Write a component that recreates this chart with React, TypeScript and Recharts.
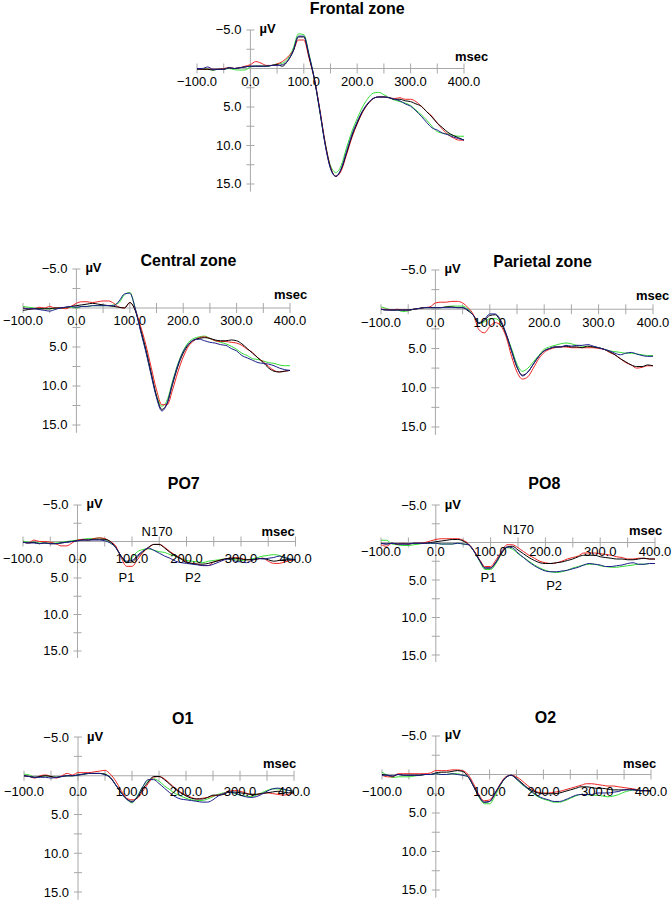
import React from 'react';
import { LineChart, Line, XAxis, YAxis, ReferenceLine, ReferenceDot } from 'recharts';

// time (ms)
const TIME = [-100, -90, -80, -70, -60, -50, -40, -30, -20, -10, 0, 10, 20, 30, 40, 50, 60, 70, 80, 90, 100, 110, 120, 130, 140, 150, 160, 170, 180, 190, 200, 210, 220, 230, 240, 250, 260, 270, 280, 290, 300, 310, 320, 330, 340, 350, 360, 370, 380, 390, 400];

// Frontal zone
const FRONTAL_BLACK = [0.1, 0.1, 0.1, 0.2, 0.1, 0.1, -0.1, 0.0, -0.1, -0.2, -0.3, -0.3, -0.3, -0.3, -0.4, -0.5, -0.3, -1.0, -2.2, -4.1, -4.1, -1.5, 1.5, 5.5, 9.8, 12.9, 14.0, 13.1, 11.0, 8.8, 7.1, 5.6, 4.6, 3.9, 3.7, 3.7, 3.8, 4.0, 4.0, 4.2, 4.3, 4.6, 4.9, 5.6, 6.3, 7.1, 7.7, 8.3, 8.7, 9.0, 9.3];
const FRONTAL_RED = [0.0, 0.1, 0.1, 0.1, 0.1, 0.0, -0.1, 0.0, -0.1, -0.3, -0.5, -0.9, -0.7, -0.4, -0.4, -0.6, -0.9, -1.5, -2.3, -3.7, -3.7, -1.3, 1.4, 5.3, 9.6, 12.8, 14.0, 13.3, 11.2, 9.0, 7.2, 5.7, 4.6, 3.9, 3.7, 3.7, 3.8, 3.9, 3.8, 4.0, 4.0, 4.3, 4.9, 5.6, 6.2, 7.1, 7.9, 8.6, 9.0, 9.3, 9.3];
const FRONTAL_GREEN = [0.0, 0.0, 0.1, 0.2, 0.1, 0.1, 0.0, 0.15, 0.2, 0.2, -0.2, -0.3, -0.3, -0.3, -0.4, -0.6, -0.7, -1.3, -2.6, -4.5, -4.4, -1.8, 1.4, 5.6, 9.7, 12.6, 13.5, 12.6, 10.3, 8.2, 6.5, 5.0, 3.9, 3.2, 3.1, 3.4, 3.8, 4.1, 4.3, 4.5, 4.8, 5.4, 6.0, 6.7, 7.5, 8.2, 8.4, 8.5, 8.7, 8.8, 8.8];
const FRONTAL_BLUE = [0.0, 0.0, -0.2, 0.1, 0.1, 0.1, -0.1, 0.0, -0.1, -0.2, -0.3, -0.3, -0.3, -0.3, -0.4, -0.4, -0.5, -1.0, -2.3, -4.2, -4.2, -1.7, 1.4, 5.5, 9.9, 13.0, 14.0, 13.0, 10.8, 8.6, 6.9, 5.5, 4.5, 3.9, 3.7, 3.7, 3.8, 4.0, 4.2, 4.6, 4.9, 5.5, 6.2, 7.0, 7.7, 8.0, 8.4, 8.6, 8.9, 9.1, 9.3];

// Central zone
const CENTRAL_BLACK = [0.3, 0.2, 0.1, 0.1, 0.1, 0.1, 0.0, 0.0, -0.1, -0.2, -0.3, -0.4, -0.5, -0.6, -0.5, -0.4, -0.3, -0.2, -0.1, 0.0, -0.7, 0.3, 2.7, 5.3, 8.3, 11.3, 13.0, 12.2, 9.8, 7.5, 5.8, 4.7, 4.1, 3.9, 3.8, 3.9, 4.1, 4.2, 4.2, 4.1, 4.2, 4.6, 5.2, 5.8, 6.4, 7.0, 7.7, 8.1, 8.2, 8.1, 8.0];
const CENTRAL_RED = [0.0, 0.1, 0.1, -0.1, 0.0, -0.2, 0.0, 0.0, 0.1, -0.2, -0.6, -0.8, -0.8, -0.7, -0.8, -0.9, -0.9, -0.6, -0.1, 0.0, -0.7, 0.2, 2.3, 4.7, 7.6, 10.5, 12.4, 12.4, 10.5, 8.2, 6.3, 4.9, 4.2, 3.8, 3.7, 3.9, 4.2, 4.3, 4.3, 4.4, 4.5, 4.8, 5.3, 5.7, 6.4, 6.9, 7.5, 8.0, 8.2, 8.1, 8.0];
const CENTRAL_GREEN = [-0.2, -0.1, 0.0, 0.1, 0.1, 0.1, 0.1, 0.0, 0.0, -0.1, 0.0, -0.2, -0.2, -0.3, -0.3, -0.3, -0.3, -0.4, -0.7, -1.7, -2.0, 0.0, 2.8, 5.5, 8.5, 11.2, 12.6, 11.8, 9.4, 7.2, 5.5, 4.4, 3.9, 3.7, 3.6, 3.9, 4.2, 4.4, 4.6, 4.9, 5.3, 5.8, 6.1, 6.5, 6.6, 6.8, 7.0, 7.1, 7.3, 7.4, 7.4];
const CENTRAL_BLUE = [0.0, 0.1, 0.1, 0.2, 0.3, 0.4, 0.2, 0.0, -0.1, -0.2, -0.1, -0.2, -0.2, -0.3, -0.3, -0.3, -0.3, -0.3, -0.9, -1.8, -1.9, 0.0, 2.9, 5.6, 8.6, 11.5, 13.2, 12.2, 9.6, 7.3, 5.6, 4.6, 4.1, 4.0, 4.2, 4.4, 4.5, 4.7, 4.8, 5.2, 5.5, 6.1, 6.4, 6.7, 7.0, 7.1, 7.2, 7.4, 7.7, 7.9, 8.0];

// Parietal zone
const PARIETAL_BLACK = [0.0, 0.1, 0.1, 0.1, 0.1, 0.1, 0.0, -0.1, -0.2, -0.2, -0.2, -0.2, -0.3, -0.3, -0.2, -0.2, 0.2, 0.8, 1.8, 1.4, 0.8, 0.7, 1.6, 3.2, 5.3, 7.4, 8.4, 8.0, 7.0, 6.0, 5.3, 5.0, 4.8, 4.8, 4.7, 4.8, 4.8, 4.9, 4.7, 4.8, 4.9, 5.1, 5.4, 5.8, 6.3, 6.7, 7.1, 7.3, 7.3, 7.1, 7.2];
const PARIETAL_RED = [0.0, 0.0, 0.1, 0.0, 0.1, 0.1, 0.0, -0.1, -0.2, -0.3, -0.8, -0.9, -0.9, -1.0, -1.0, -0.8, -0.2, 0.7, 2.6, 3.0, 2.2, 1.7, 2.1, 3.5, 6.0, 8.0, 8.9, 8.6, 7.5, 6.3, 5.5, 5.1, 4.9, 4.8, 4.8, 4.9, 4.9, 4.9, 4.9, 4.9, 5.0, 5.1, 5.5, 5.8, 6.3, 6.8, 7.1, 7.5, 7.4, 7.2, 7.2];
const PARIETAL_GREEN = [-0.3, -0.1, 0.1, 0.1, 0.3, 0.2, 0.0, -0.1, -0.2, -0.2, -0.2, -0.2, -0.3, -0.4, -0.4, -0.4, 0.0, 0.8, 1.8, 1.6, 1.2, 1.2, 1.7, 3.2, 5.0, 7.0, 7.9, 7.5, 6.7, 5.9, 5.1, 4.8, 4.6, 4.4, 4.3, 4.4, 4.6, 4.7, 4.8, 4.8, 4.9, 5.1, 5.3, 5.4, 5.5, 5.6, 5.6, 5.7, 5.8, 5.9, 5.9];
const PARIETAL_BLUE = [0.0, 0.1, 0.1, 0.1, 0.1, 0.1, 0.0, -0.1, -0.2, -0.2, -0.2, -0.2, -0.2, -0.2, -0.2, -0.2, 0.1, 0.8, 1.7, 1.3, 0.6, 0.6, 1.4, 3.1, 5.3, 7.3, 8.5, 8.0, 7.0, 6.0, 5.3, 5.0, 4.8, 4.8, 4.6, 4.7, 4.6, 4.6, 4.5, 4.7, 4.9, 5.1, 5.3, 5.6, 5.8, 5.6, 5.5, 5.7, 5.9, 6.0, 6.0];

// PO7
const PO7_BLACK = [0.1, 0.2, 0.1, 0.3, 0.2, 0.3, 0.3, 0.2, 0.1, 0.0, -0.1, -0.2, -0.2, -0.3, -0.3, -0.3, 0.0, 0.8, 2.0, 2.9, 2.8, 2.1, 1.4, 0.8, 0.4, 0.4, 0.9, 1.5, 2.0, 2.4, 2.9, 3.0, 3.1, 3.1, 3.0, 2.8, 2.6, 2.4, 2.3, 2.3, 2.4, 2.5, 2.5, 2.4, 2.3, 2.5, 2.7, 2.6, 2.5, 2.5, 2.5];
const PO7_RED = [0.1, 0.2, -0.2, 0.0, 0.0, 0.1, 0.3, 0.6, 0.6, 0.2, -0.2, -0.3, -0.2, -0.4, -0.5, -0.4, 0.0, 0.6, 2.2, 3.4, 3.4, 2.5, 1.5, 0.9, 0.4, 0.4, 0.8, 1.4, 1.9, 2.3, 2.8, 3.0, 3.1, 3.3, 3.3, 2.8, 2.6, 2.4, 2.3, 2.2, 2.3, 2.5, 2.5, 2.4, 2.3, 2.7, 3.0, 3.0, 2.8, 2.6, 2.5];
const PO7_GREEN = [-0.1, 0.1, 0.1, 0.2, 0.2, 0.2, 0.2, 0.1, 0.0, -0.1, -0.2, -0.3, -0.4, -0.4, -0.5, -0.3, 0.2, 0.8, 2.0, 2.8, 2.2, 1.4, 1.1, 1.0, 1.2, 1.4, 1.5, 1.8, 2.0, 2.3, 2.6, 2.7, 2.8, 2.9, 2.7, 2.6, 2.5, 2.4, 2.4, 2.5, 2.6, 2.5, 2.4, 2.2, 2.0, 1.9, 1.8, 1.9, 2.2, 2.4, 2.5];
const PO7_BLUE = [0.1, 0.2, 0.2, 0.3, 0.2, 0.3, 0.3, 0.2, 0.1, 0.0, -0.1, -0.2, -0.2, -0.2, -0.2, -0.1, 0.2, 0.8, 2.0, 2.7, 2.6, 1.9, 1.3, 0.9, 1.2, 1.6, 2.0, 2.3, 2.7, 2.9, 3.0, 3.1, 3.2, 3.3, 3.3, 3.1, 2.8, 2.5, 2.4, 2.7, 2.8, 2.9, 2.6, 2.3, 2.4, 2.3, 2.2, 2.0, 2.2, 2.4, 2.5];

// PO8
const PO8_BLACK = [0.1, 0.2, 0.1, 0.2, 0.2, 0.2, 0.1, 0.1, 0.1, 0.0, -0.1, -0.2, -0.3, -0.4, -0.4, -0.2, 0.3, 1.2, 2.4, 3.4, 3.4, 2.6, 1.4, 0.6, 0.5, 1.0, 1.5, 2.0, 2.4, 2.7, 2.8, 2.8, 2.7, 2.6, 2.4, 2.2, 1.9, 1.7, 1.7, 1.7, 1.9, 2.0, 2.1, 2.2, 2.2, 2.3, 2.3, 2.2, 2.1, 2.2, 2.2];
const PO8_RED = [0.3, 0.5, 0.1, 0.2, 0.1, 0.2, 0.1, 0.1, 0.0, -0.2, -0.4, -0.5, -0.5, -0.5, -0.5, -0.3, 0.2, 1.1, 2.3, 3.2, 3.2, 2.3, 1.2, 0.3, 0.3, 0.7, 1.2, 1.7, 2.1, 2.5, 2.7, 2.8, 2.7, 2.5, 2.2, 2.0, 1.8, 1.4, 1.4, 1.4, 1.5, 1.6, 1.7, 1.9, 2.0, 2.2, 2.2, 2.1, 2.1, 2.2, 2.2];
const PO8_GREEN = [-0.3, -0.3, 0.2, 0.3, 0.4, 0.4, 0.3, 0.2, 0.1, 0.1, 0.1, 0.2, 0.2, 0.2, 0.1, 0.2, 0.3, 1.2, 2.5, 3.6, 3.6, 2.8, 1.5, 0.7, 0.9, 1.5, 2.0, 2.5, 3.0, 3.4, 3.7, 3.9, 4.0, 3.9, 3.7, 3.4, 3.2, 3.0, 2.9, 2.9, 3.1, 3.2, 3.3, 3.3, 3.2, 3.1, 3.0, 2.9, 2.9, 2.8, 2.8];
const PO8_BLUE = [0.1, 0.2, 0.1, 0.2, 0.2, 0.2, 0.1, 0.1, 0.1, 0.1, 0.1, 0.2, 0.2, 0.2, 0.1, 0.2, 0.3, 1.2, 2.4, 3.4, 3.4, 2.6, 1.4, 0.6, 0.7, 1.4, 2.0, 2.6, 3.1, 3.5, 3.8, 3.9, 3.9, 3.8, 3.7, 3.5, 3.3, 3.0, 2.8, 2.9, 3.0, 3.2, 3.2, 3.1, 3.0, 2.8, 2.7, 2.9, 2.9, 2.8, 2.8];

// O1
const O1_BLACK = [0.0, 0.1, 0.2, 0.1, 0.0, 0.1, 0.2, 0.1, 0.0, 0.0, -0.1, -0.2, -0.3, -0.3, -0.3, -0.2, 0.3, 1.2, 2.2, 3.0, 3.3, 2.8, 1.7, 0.8, 0.1, 0.1, 0.5, 1.1, 1.7, 2.2, 2.6, 2.9, 3.0, 3.0, 2.8, 2.5, 2.5, 2.4, 2.1, 2.1, 2.2, 2.3, 2.4, 2.4, 2.3, 2.2, 2.1, 2.0, 2.1, 2.2, 2.2];
const O1_RED = [0.0, 0.1, 0.3, 0.0, -0.1, 0.1, 0.3, 0.0, -0.3, -0.1, -0.4, -0.4, -0.4, -0.5, -0.6, -0.7, -0.2, 0.7, 1.9, 2.9, 3.1, 2.9, 2.0, 1.0, 0.2, 0.1, 0.4, 1.0, 1.6, 2.1, 2.5, 2.8, 3.0, 2.9, 2.8, 2.6, 2.5, 2.3, 2.0, 1.9, 2.0, 2.2, 2.4, 2.4, 2.3, 2.2, 2.3, 2.4, 2.5, 2.4, 2.2];
const O1_GREEN = [-0.2, -0.1, 0.2, 0.1, 0.0, 0.1, 0.2, 0.1, 0.0, 0.0, -0.1, -0.2, -0.3, -0.3, -0.3, -0.2, 0.2, 1.2, 2.2, 3.0, 3.5, 2.6, 1.4, 0.6, 0.4, 0.7, 1.3, 1.8, 2.3, 2.6, 2.9, 3.1, 3.2, 3.2, 3.0, 2.7, 2.4, 2.2, 2.1, 2.3, 2.5, 2.6, 2.7, 2.5, 2.2, 1.9, 1.7, 1.7, 1.8, 1.9, 2.0];
const O1_BLUE = [0.0, 0.1, 0.2, 0.2, 0.2, 0.3, 0.2, 0.1, 0.0, 0.0, -0.1, -0.2, -0.3, -0.3, -0.3, -0.1, 0.2, 1.2, 2.2, 3.0, 3.4, 2.7, 1.4, 0.5, 0.5, 1.0, 1.6, 2.2, 2.7, 3.0, 3.1, 3.2, 3.3, 3.4, 3.4, 3.1, 2.6, 2.3, 2.1, 2.2, 2.5, 2.7, 2.8, 2.7, 2.4, 2.0, 1.7, 1.6, 1.7, 1.9, 2.0];

// O2
const O2_BLACK = [0.0, 0.1, 0.2, 0.0, 0.1, 0.1, 0.1, 0.1, 0.0, 0.0, -0.2, -0.3, -0.3, -0.4, -0.5, -0.4, 0.3, 1.5, 2.8, 3.6, 3.5, 2.5, 1.3, 0.4, 0.1, 0.5, 1.1, 1.7, 2.1, 2.4, 2.5, 2.5, 2.5, 2.4, 2.2, 2.0, 1.8, 1.6, 1.6, 1.7, 1.8, 1.8, 1.9, 2.0, 2.0, 2.0, 1.9, 2.0, 2.1, 2.1, 2.1];
const O2_RED = [0.1, 0.3, 0.3, -0.1, -0.1, -0.1, -0.1, -0.1, -0.1, -0.2, -0.5, -0.5, -0.5, -0.6, -0.6, -0.5, 0.0, 1.2, 2.6, 3.4, 3.3, 2.4, 1.2, 0.3, 0.1, 0.3, 0.8, 1.4, 1.9, 2.3, 2.4, 2.4, 2.3, 2.2, 2.0, 1.8, 1.6, 1.4, 1.2, 1.2, 1.3, 1.4, 1.5, 1.5, 1.6, 1.7, 1.8, 1.9, 2.1, 2.1, 2.1];
const O2_GREEN = [-0.3, 0.1, 0.4, 0.3, 0.3, 0.3, 0.2, 0.1, 0.0, 0.0, -0.1, 0.0, 0.0, -0.1, -0.1, 0.1, 0.3, 1.5, 2.9, 3.8, 3.8, 2.8, 1.4, 0.4, 0.1, 0.6, 1.3, 1.8, 2.4, 2.9, 3.2, 3.4, 3.6, 3.6, 3.4, 3.1, 2.8, 2.6, 2.6, 2.7, 2.7, 2.8, 2.9, 2.8, 2.6, 2.3, 2.1, 2.0, 2.1, 2.1, 2.1];
const O2_BLUE = [0.1, 0.1, 0.2, 0.0, 0.1, 0.1, 0.1, 0.1, 0.0, 0.0, -0.1, 0.0, 0.0, -0.1, 0.0, 0.1, 0.3, 1.5, 2.8, 3.6, 3.5, 2.5, 1.3, 0.4, 0.1, 0.6, 1.2, 1.8, 2.3, 2.8, 3.1, 3.3, 3.5, 3.5, 3.3, 3.0, 2.7, 2.6, 2.6, 2.6, 2.4, 2.4, 2.4, 2.3, 2.2, 2.0, 2.0, 2.0, 2.1, 2.1, 2.2];

// axes
const X_DOMAIN = [-100, 400];
const Y_DOMAIN = [-5, 16];
const X_TICKS = [-100, -50, 0, 50, 100, 150, 200, 250, 300, 350, 400];
const X_LABELS = [-100, 0, 100, 200, 300, 400];
const Y_TICKS = [-5, -2.5, 0, 2.5, 5, 7.5, 10, 12.5, 15];
const Y_LABELS = [-5, 5, 10, 15];

const COLORS = { black: '#000000', red: '#ee2222', green: '#33dd33', blue: '#1c1c8c' };
const AXIS = '#a8a8a8';

const PANELS = [
  { title: 'Frontal zone', series: [FRONTAL_BLACK, FRONTAL_RED, FRONTAL_GREEN, FRONTAL_BLUE], left: 197, top: 30, w: 267, u: 7.7, titleT: 200, titleDy: -21, msecDx: -9, msecDy: -12, xlDy: 13, notes: [] },
  { title: 'Central zone', series: [CENTRAL_BLACK, CENTRAL_RED, CENTRAL_GREEN, CENTRAL_BLUE], left: 23, top: 269, w: 267, u: 7.8, titleT: 210, titleDy: -8, msecDx: -16, msecDy: -13, xlDy: 13, notes: [] },
  { title: 'Parietal zone', series: [PARIETAL_BLACK, PARIETAL_RED, PARIETAL_GREEN, PARIETAL_BLUE], left: 381, top: 270, w: 272, u: 7.85, titleT: 197, titleDy: -8, msecDx: -17, msecDy: -14, xlDy: 13, notes: [] },
  { title: 'PO7', series: [PO7_BLACK, PO7_RED, PO7_GREEN, PO7_BLUE], left: 22.5, top: 504.5, w: 272.5, u: 7.3, titleT: 195, titleDy: -21, msecDx: -34, msecDy: -10, xlDy: 17,
    notes: [{ t: 146, v: -1.4, text: 'N170' }, { t: 90, v: 4.9, text: 'P1' }, { t: 212, v: 4.9, text: 'P2' }] },
  { title: 'PO8', series: [PO8_BLACK, PO8_RED, PO8_GREEN, PO8_BLUE], left: 381, top: 504.5, w: 274, u: 7.5, titleT: 198, titleDy: -22, msecDx: -26, msecDy: -12, xlDy: 9,
    notes: [{ t: 151, v: -1.7, text: 'N170' }, { t: 96, v: 4.7, text: 'P1' }, { t: 216, v: 5.7, text: 'P2' }] },
  { title: 'O1', series: [O1_BLACK, O1_RED, O1_GREEN, O1_BLUE], left: 24, top: 737, w: 270, u: 7.75, titleT: 194, titleDy: -19, msecDx: -31, msecDy: -12, xlDy: 16, notes: [] },
  { title: 'O2', series: [O2_BLACK, O2_RED, O2_GREEN, O2_BLUE], left: 382, top: 736, w: 269, u: 7.7, titleT: 204, titleDy: -18, msecDx: -28, msecDy: -11, xlDy: 17, notes: [] },
];

const fmt = (v: number) => (v < 0 ? '\u2212' : '') + Math.abs(v).toFixed(1);

function Txt(props: any) {
  const { viewBox, tx, ox = 0, oy = 0, ta = 'middle', fw = 'normal', fs = 13 } = props;
  if (!viewBox) return null;
  const x = viewBox.x + (viewBox.width || 0) / 2 + ox;
  const y = viewBox.y + (viewBox.height || 0) / 2 + oy;
  return (
    <text x={x} y={y} textAnchor={ta} dominantBaseline="central" fontSize={fs} fontWeight={fw} fill="#000">
      {tx}
    </text>
  );
}

const M = { top: 30, right: 40, bottom: 0, left: 40 };

function Panel({ p }: { p: any }) {
  const rows = TIME.map((t, i) => ({ t, black: p.series[0][i], red: p.series[1][i], green: p.series[2][i], blue: p.series[3][i] }));
  const plotH = (Y_DOMAIN[1] - Y_DOMAIN[0]) * p.u;
  const pxPerMs = p.w / (X_DOMAIN[1] - X_DOMAIN[0]);
  const xTickHalf = 5 / p.u; // in µV units
  const yTickHalf = 4 / pxPerMs; // in ms units
  const width = p.w + M.left + M.right;
  const height = plotH + M.top + M.bottom;
  return (
    <div style={{ position: 'absolute', left: p.left - M.left, top: p.top - M.top, width, height }}>
      <LineChart width={width} height={height} data={rows} margin={M}>
        <XAxis type="number" dataKey="t" domain={X_DOMAIN} allowDataOverflow hide />
        <YAxis type="number" domain={Y_DOMAIN} reversed allowDataOverflow hide />
        <ReferenceLine y={0} stroke={AXIS} strokeWidth={1} ifOverflow="visible" />
        <ReferenceLine x={0} stroke={AXIS} strokeWidth={1} ifOverflow="visible" />
        {X_TICKS.map((t) => (
          <ReferenceLine key={'xt' + t} segment={[{ x: t, y: -xTickHalf }, { x: t, y: xTickHalf }]} stroke={AXIS} ifOverflow="visible" />
        ))}
        {Y_TICKS.map((v) => (
          <ReferenceLine key={'yt' + v} segment={[{ x: -yTickHalf, y: v }, { x: yTickHalf, y: v }]} stroke={AXIS} ifOverflow="visible" />
        ))}
        {X_LABELS.map((t) => (
          <ReferenceDot key={'xl' + t} x={t} y={0} r={0} fill="none" stroke="none" ifOverflow="visible" label={<Txt tx={fmt(t)} oy={p.xlDy} />} />
        ))}
        {Y_LABELS.map((v) => (
          <ReferenceDot key={'yl' + v} x={0} y={v} r={0} fill="none" stroke="none" ifOverflow="visible" label={<Txt tx={fmt(v)} ox={-9} ta="end" />} />
        ))}
        <ReferenceDot x={0} y={-5} r={0} fill="none" stroke="none" ifOverflow="visible" label={<Txt tx={'\u00b5V'} ox={9} oy={-1} ta="start" fw="bold" />} />
        <ReferenceDot x={400} y={0} r={0} fill="none" stroke="none" ifOverflow="visible" label={<Txt tx="msec" ox={p.msecDx} oy={p.msecDy} ta="start" fw="bold" />} />
        <ReferenceDot x={p.titleT} y={-5} r={0} fill="none" stroke="none" ifOverflow="visible" label={<Txt tx={p.title} oy={p.titleDy} fw="bold" fs={16} />} />
        {p.notes.map((n: any) => (
          <ReferenceDot key={n.text} x={n.t} y={n.v} r={0} fill="none" stroke="none" ifOverflow="visible" label={<Txt tx={n.text} />} />
        ))}
        <Line type="monotone" dataKey="green" stroke={COLORS.green} strokeWidth={1} dot={false} isAnimationActive={false} />
        <Line type="monotone" dataKey="red" stroke={COLORS.red} strokeWidth={1} dot={false} isAnimationActive={false} />
        <Line type="monotone" dataKey="black" stroke={COLORS.black} strokeWidth={1} dot={false} isAnimationActive={false} />
        <Line type="monotone" dataKey="blue" stroke={COLORS.blue} strokeWidth={1} dot={false} isAnimationActive={false} />
      </LineChart>
    </div>
  );
}

export default function App() {
  return (
    <div style={{ position: 'absolute', left: 0, top: 0, width: 672, height: 900, background: '#fff', overflow: 'hidden', fontFamily: '"Liberation Sans", Arial, sans-serif' }}>
      {PANELS.map((p) => (
        <Panel key={p.title} p={p} />
      ))}
    </div>
  );
}
